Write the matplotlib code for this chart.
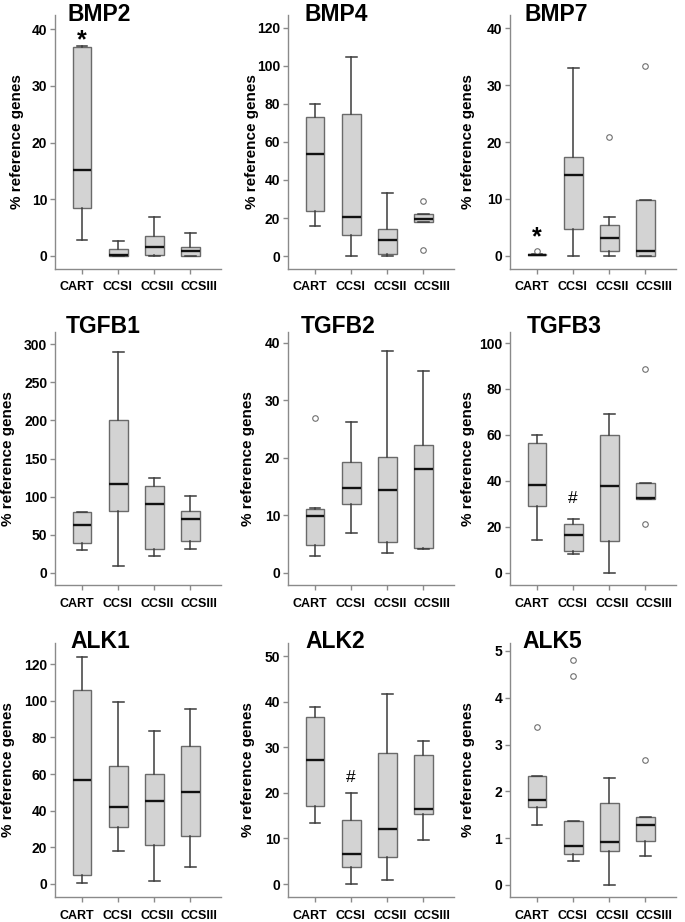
import matplotlib
matplotlib.use("Agg")
import matplotlib.pyplot as plt
import matplotlib.transforms as mtransforms

plt.rcParams['font.family'] = ['Liberation Sans', 'DejaVu Sans']
plt.rcParams['font.weight'] = 'bold'

# panels and groups
genes = ["BMP2", "BMP4", "BMP7", "TGFB1", "TGFB2", "TGFB3", "ALK1", "ALK2", "ALK5"]
groups = ["CART", "CCSI", "CCSII", "CCSIII"]

# box plot statistics (% reference genes)
whisker_low = [
    [2.8, 0.0, 0.0, 0.0],
    [15.8, 0.0, 0.0, 17.9],
    [0.1, 0.0, 0.0, 0.0],
    [29.7, 8.7, 22.7, 31.5],
    [3.0, 7.0, 3.4, 4.2],
    [14.3, 7.9, 0.0, 32.1],
    [0.4, 17.8, 1.6, 9.1],
    [13.5, 0.0, 0.9, 9.7],
    [1.28, 0.52, 0.0, 0.61],
]
q1 = [
    [8.5, 0.0, 0.1, 0.0],
    [23.5, 11.2, 0.9, 17.9],
    [0.1, 4.8, 0.9, 0.0],
    [38.5, 81.3, 31.5, 41.1],
    [4.8, 11.9, 5.3, 4.4],
    [29.0, 9.2, 13.8, 32.1],
    [4.7, 31.3, 21.3, 26.0],
    [17.2, 3.8, 6.0, 15.3],
    [1.66, 0.65, 0.73, 0.94],
]
median = [
    [15.1, 0.1, 1.5, 0.8],
    [53.4, 20.3, 8.4, 19.6],
    [0.2, 14.2, 3.1, 0.9],
    [62.1, 115.9, 90.1, 70.0],
    [9.9, 14.7, 14.5, 18.0],
    [38.0, 16.3, 37.9, 32.7],
    [56.5, 42.0, 45.1, 50.2],
    [27.3, 6.6, 12.1, 16.4],
    [1.81, 0.83, 0.92, 1.27],
]
q3 = [
    [36.8, 1.2, 3.5, 1.6],
    [73.0, 74.6, 14.2, 22.1],
    [0.3, 17.3, 5.4, 9.9],
    [79.6, 201.0, 113.7, 81.3],
    [11.2, 19.3, 20.2, 22.2],
    [56.6, 21.0, 60.1, 39.2],
    [105.6, 64.5, 60.0, 75.3],
    [36.7, 14.0, 28.7, 28.4],
    [2.33, 1.36, 1.74, 1.45],
]
whisker_high = [
    [37.1, 2.7, 6.9, 4.0],
    [79.7, 104.6, 32.9, 22.1],
    [0.3, 33.0, 6.9, 9.9],
    [79.6, 290.0, 124.6, 101.0],
    [11.3, 26.3, 38.6, 35.2],
    [59.9, 23.2, 69.2, 39.2],
    [123.6, 99.1, 83.6, 95.3],
    [38.9, 20.0, 41.7, 31.4],
    [2.33, 1.36, 2.29, 1.45],
]
outliers = [
    [[], [], [], []],
    [[], [], [], [28.7, 3.0]],
    [[0.9], [], [20.9], [33.4]],
    [[], [], [], []],
    [[27.0], [], [], []],
    [[], [], [], [88.5, 21.1]],
    [[], [], [], []],
    [[], [], [], []],
    [[3.38], [4.80, 4.47], [], [2.67]],
]

# significance marks: (panel, group, symbol, y)
marks = [(0, 0, "*", 38.0), (2, 0, "*", 3.2), (5, 1, "#", 32.2), (7, 1, "#", 23.3)]

# axis scales
tick_max = [40, 120, 40, 300, 40, 100, 120, 50, 5]
tick_step = [10, 20, 10, 50, 10, 20, 20, 10, 1]
y_lims = [(-2.3, 42.5), (-6.8, 126.7), (-2.3, 42.3), (-16, 316), (-2.1, 41.9),
          (-5.4, 104.8), (-7.1, 131.5), (-2.85, 52.9), (-0.26, 5.17)]

# layout in pixels
W, H = 685, 922
col_left = [55, 288, 510]
row_bottom = [269, 585, 897]
row_height = [254, 253, 254]
title_x = [99, 336, 556, 103, 338, 564, 100, 335, 552]
title_base = [21, 333, 648]
ylabel_off = [38, 36, 42, 47, 40, 42, 47, 40, 42]
label_shift = [-5, -1, 3, 9]  # group labels sit a little spread out

fig = plt.figure(figsize=(W / 100, H / 100), dpi=100)

for i, gene in enumerate(genes):
    r, c = divmod(i, 3)
    ax = fig.add_axes([col_left[c] / W, 1 - row_bottom[r] / H, 166 / W, row_height[r] / H])

    stats = []
    for j in range(len(groups)):
        stats.append(dict(whislo=whisker_low[i][j], q1=q1[i][j], med=median[i][j],
                          q3=q3[i][j], whishi=whisker_high[i][j], fliers=outliers[i][j]))

    ax.bxp(stats, positions=[1, 2, 3, 4], widths=0.52, capwidths=0.3, patch_artist=True,
           boxprops=dict(facecolor="#d3d3d3", edgecolor="#6a6a6a", linewidth=1),
           medianprops=dict(color="#111111", linewidth=1.7),
           whiskerprops=dict(color="#3c3c3c", linewidth=1.1),
           capprops=dict(color="#3c3c3c", linewidth=1.1),
           flierprops=dict(marker="o", markerfacecolor="white", markeredgecolor="#707070",
                           markersize=4, markeredgewidth=0.8))

    ax.set_xlim(0.25, 4.85)
    ax.set_ylim(*y_lims[i])
    yt = list(range(0, tick_max[i] + 1, tick_step[i]))
    ax.set_yticks(yt)
    ax.set_yticklabels([str(v) for v in yt], fontsize=10, fontweight="bold")
    ax.set_xticks([1, 2, 3, 4])
    ax.set_xticklabels(groups, fontsize=9, fontweight="bold")

    for s in ["top", "right"]:
        ax.spines[s].set_visible(False)
    for s in ["left", "bottom"]:
        ax.spines[s].set_color("#8a8a8a")
        ax.spines[s].set_linewidth(1)
    ax.tick_params(axis="x", length=3.5, width=1, color="#8a8a8a", pad=5.5)
    ax.tick_params(axis="y", length=3.5, width=1, color="#8a8a8a", pad=2)

    for lab, dx in zip(ax.get_xticklabels(), label_shift):
        lab.set_transform(lab.get_transform() +
                          mtransforms.ScaledTranslation(dx / 100, 0, fig.dpi_scale_trans))

    ax.set_ylabel("% reference genes", fontsize=11, fontweight="bold")
    ax.yaxis.set_label_coords(-(ylabel_off[i] - 7) / 166, 0.5)

    fig.text(title_x[i] / W, 1 - title_base[r] / H, gene, fontsize=16.5,
             fontweight="bold", ha="center", va="baseline")

for i, j, sym, y in marks:
    ax = fig.axes[i]
    if sym == "*":
        ax.text(j + 1, y, sym, fontsize=18, fontweight="bold", ha="center", va="center")
    else:
        ax.text(j + 1, y, sym, fontsize=12.5, fontweight="normal", ha="center", va="center")

fig.savefig("out.png", dpi=100)
